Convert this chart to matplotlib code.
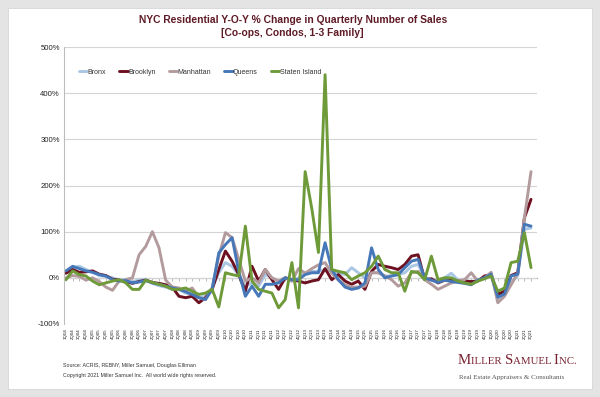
import matplotlib
matplotlib.use("Agg")
import matplotlib.pyplot as plt
from matplotlib.patches import Rectangle
from matplotlib.offsetbox import TextArea, HPacker, AnchoredOffsetbox

# ---------------- data ----------------
years = list(range(2004, 2022))
quarters = [f"{q}Q{str(y)[2:]}" for y in years for q in range(1, 5)][:71]

bronx = [10, 22, 25, 18, 12, 5, 3, 0, -5, -5, -8, -5, -3, -12, -17, -20, -25,
         -25, -33, -36, -43, -40, -22, 11, 33, 25, 7, -18, -11, -18, 7, 0, -7, 0, -7, 0,
         11, 14, 14, 18, 14, 11, 7, 22, 11, 0, 11, 11, 4, 4, 7, 11, 25, 29,
         0, -5, -5, 0, 10, -5, -5, -10, -5, 0, 5, -45, -35, -10, 5, 105, 108]
brooklyn = [10, 18, 12, 13, 15, 8, 5, -3, -5, -8, -12, -8, -5, -10, -12, -15, -20,
            -40, -43, -40, -54, -43, -25, 18, 58, 36, 7, -29, 25, -7, 18, -4, -25, 0, -4, -7,
            -11, -7, -4, 20, -4, 7, -7, -14, -7, -25, 14, 29, 25, 22, 18, 29, 47, 50,
            -4, -2, -11, -5, -5, -7, -7, -8, -7, 4, 7, -36, -29, 5, 11, 130, 170]
manhattan = [0, 5, 3, -5, 0, -8, -20, -27, -7, -4, 0, 50, 68, 100, 65, -5, -20,
             -22, -29, -22, -43, -47, -22, 47, 98, 87, 40, -7, 0, -11, 18, 0, -7, 0, -7, 20,
             10, 20, 28, 33, 10, -5, -15, -20, -20, -18, 11, 11, 4, -4, -18, -11, 11, 14,
             -4, -14, -25, -18, -11, -7, -4, 11, -7, 0, 12, -54, -40, -15, 10, 130, 230]
queens = [15, 25, 20, 15, 12, 7, 4, -4, -7, -6, -11, -9, -6, -11, -14, -18, -22,
          -25, -30, -36, -43, -47, -25, 54, 72, 87, 14, -40, -18, -40, -14, -14, -11, 0, -4, -4,
          7, 11, 11, 76, 18, -4, -20, -25, -22, -11, 65, 18, 0, 4, 7, 22, 36, 40,
          0, -5, -10, -5, -8, -10, -12, -15, -5, 0, 8, -42, -35, 4, 8, 116, 112]
staten = [-4, 15, 7, 4, -7, -15, -11, -7, -4, -11, -25, -25, -5, -10, -14, -18, -25,
          -25, -22, -29, -36, -33, -25, -63, 11, 7, 4, 112, -7, -25, -29, -33, -65, -47, 33, -65,
          230, 150, 55, 440, 18, 14, 11, -4, 4, 11, 25, 47, 18, 11, 11, -29, 14, 11,
          -4, 47, -4, 0, 0, -7, -11, -14, -7, -2, 4, -29, -22, 33, 36, 98, 22]

series_names = ["Bronx", "Brooklyn", "Manhattan", "Queens", "Staten Island"]
series_vals = [bronx, brooklyn, manhattan, queens, staten]
series_colors = ["#a9c6e3", "#6d1020", "#b39b9d", "#4677b8", "#6e9a3a"]

y_ticks = [-100, 0, 100, 200, 300, 400, 500]
y_labels = [f"{v}%" for v in y_ticks]

# ---------------- figure ----------------
W, H = 600, 397
fig = plt.figure(figsize=(W / 100, H / 100), dpi=100)
fig.patch.set_facecolor("#e4e4e4")
fig.patches.append(Rectangle((8 / W, 8 / H), 1 - 16 / W, 1 - 16 / H,
                             transform=fig.transFigure, facecolor="white",
                             edgecolor="#d0d0d0", linewidth=0.5, zorder=-10))

ax = fig.add_axes([64 / W, 1 - 324 / H, (537 - 64) / W, (324 - 47) / H])
ax.set_facecolor("none")
x = list(range(len(quarters)))
for name, vals, col in zip(series_names, series_vals, series_colors):
    ax.plot(x, vals, color=col, linewidth=2.1, label=name, solid_joinstyle="round",
            solid_capstyle="round")

ax.set_ylim(-100, 500)
ax.set_xlim(-0.3, 70.9)
ax.set_yticks(y_ticks)
ax.set_yticklabels(y_labels, fontsize=5.6, color="#222222", family="Liberation Sans")
ax.yaxis.grid(True, color="#d4d4d4", linewidth=0.8)
ax.set_axisbelow(True)
ax.tick_params(axis="y", length=0, pad=3)
ax.set_xticks(x)
ax.set_xticklabels(quarters, rotation=90, fontsize=3.2, color="#1a1a1a",
                   family="Liberation Sans")
ax.tick_params(axis="x", length=0, pad=3)
for s in ["top", "right", "bottom"]:
    ax.spines[s].set_visible(False)
ax.spines["left"].set_color("#bdbdbd")
ax.spines["left"].set_linewidth(0.8)

# zero axis line with category ticks
sec = ax.secondary_xaxis(1 / 6)
sec.set_xticks(x)
sec.set_xticklabels([])
sec.tick_params(axis="x", length=2, width=0.5, color="#a0a0a0", direction="out")
sec.spines["bottom"].set_color("#a0a0a0")
sec.spines["bottom"].set_linewidth(0.8)

leg = ax.legend(loc="center left", bbox_to_anchor=(79 / W, 1 - 72 / H),
                bbox_transform=fig.transFigure, ncol=5, frameon=False,
                prop={"family": "Liberation Sans", "size": 5.0},
                handlelength=1.2, handletextpad=0.05, columnspacing=1.9,
                borderaxespad=0, borderpad=0)
for t in leg.get_texts():
    t.set_color("#333333")

# titles
title_col = "#5e1a25"
fig.text(0.488, 1 - 20 / H, "NYC Residential Y-O-Y % Change in Quarterly Number of Sales",
         ha="center", va="center", fontsize=7.4, fontweight="bold", color=title_col,
         family="Liberation Sans")
fig.text(0.488, 1 - 33 / H, "[Co-ops, Condos, 1-3 Family]",
         ha="center", va="center", fontsize=7.4, fontweight="bold", color=title_col,
         family="Liberation Sans")

# source notes
fig.text(63 / W, 1 - 365 / H, "Source: ACRIS, REBNY, Miller Samuel, Douglas Elliman",
         ha="left", va="center", fontsize=3.8, color="#333333", family="Liberation Sans")
fig.text(63 / W, 1 - 376 / H,
         "Copyright 2021 Miller Samuel Inc.  All world wide rights reserved.",
         ha="left", va="center", fontsize=3.8, color="#333333", family="Liberation Sans")

# logo (small caps)
logo_col = "#7a2232"
parts = []
for word in ["Miller", "Samuel", "Inc."]:
    parts.append(TextArea(word[0], textprops=dict(size=10.7, color=logo_col,
                                                  family="Liberation Serif")))
    parts.append(TextArea(word[1:].upper() + " ", textprops=dict(size=7.8, color=logo_col,
                                                                family="Liberation Serif")))
pack = HPacker(children=parts, align="baseline", pad=0, sep=0)
ab = AnchoredOffsetbox(loc="center left", child=pack, frameon=False,
                       bbox_to_anchor=(458 / W, 1 - 360 / H), bbox_transform=fig.transFigure,
                       borderpad=0, pad=0)
fig.add_artist(ab)
fig.text(459 / W, 1 - 377 / H, "Real Estate Appraisers & Consultants",
         ha="left", va="center", fontsize=5.0, color="#555555", family="Liberation Serif")

fig.savefig("out.png", dpi=100, facecolor=fig.get_facecolor())
